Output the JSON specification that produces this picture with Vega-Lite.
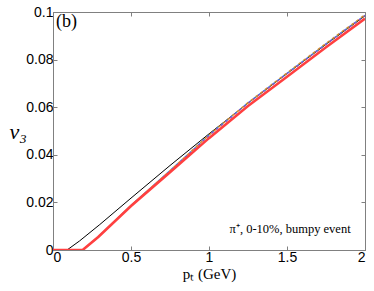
{
  "$schema": "https://vega.github.io/schema/vega-lite/v6.json",
  "width": 312,
  "height": 238,
  "autosize": {"type": "none"},
  "padding": {"left": 53, "top": 12, "right": 9, "bottom": 41},
  "background": "white",
  "config": {
    "view": {"stroke": "#808080", "strokeWidth": 1},
    "axis": {"grid": false, "domainColor": "#808080", "tickColor": "#808080", "tickSize": -4, "labelFont": "Liberation Sans", "labelFontSize": 14, "labelColor": "black", "titleColor": "black", "labelPadding": 4}
  },
  "datasets": {
    "lines": [
      {"s": "black", "pt": 0, "v": 0}, {"s": "black", "pt": 0.09, "v": 0}, {"s": "black", "pt": 0.17, "v": 0.0038}, {"s": "black", "pt": 0.3, "v": 0.0107}, {"s": "black", "pt": 0.5, "v": 0.0218}, {"s": "black", "pt": 0.75, "v": 0.0355}, {"s": "black", "pt": 1, "v": 0.0488}, {"s": "black", "pt": 1.25, "v": 0.0617}, {"s": "black", "pt": 1.5, "v": 0.0741}, {"s": "black", "pt": 1.75, "v": 0.0864}, {"s": "black", "pt": 2, "v": 0.0984},
      {"s": "d1", "pt": 0.19, "v": 0}, {"s": "d1", "pt": 0.29, "v": 0.0055}, {"s": "d1", "pt": 0.5, "v": 0.0187}, {"s": "d1", "pt": 0.75, "v": 0.0333}, {"s": "d1", "pt": 1, "v": 0.0482}, {"s": "d1", "pt": 1.25, "v": 0.0618}, {"s": "d1", "pt": 1.5, "v": 0.0742}, {"s": "d1", "pt": 1.75, "v": 0.0866}, {"s": "d1", "pt": 2, "v": 0.0986},
      {"s": "d2", "pt": 0.19, "v": 0}, {"s": "d2", "pt": 0.29, "v": 0.0055}, {"s": "d2", "pt": 0.5, "v": 0.0187}, {"s": "d2", "pt": 0.75, "v": 0.0333}, {"s": "d2", "pt": 1, "v": 0.0483}, {"s": "d2", "pt": 1.25, "v": 0.0619}, {"s": "d2", "pt": 1.5, "v": 0.0744}, {"s": "d2", "pt": 1.75, "v": 0.0868}, {"s": "d2", "pt": 2, "v": 0.0988},
      {"s": "d3", "pt": 0.19, "v": 0}, {"s": "d3", "pt": 0.29, "v": 0.0055}, {"s": "d3", "pt": 0.5, "v": 0.0186}, {"s": "d3", "pt": 0.75, "v": 0.0331}, {"s": "d3", "pt": 1, "v": 0.0481}, {"s": "d3", "pt": 1.25, "v": 0.0617}, {"s": "d3", "pt": 1.5, "v": 0.0741}, {"s": "d3", "pt": 1.75, "v": 0.0865}, {"s": "d3", "pt": 2, "v": 0.0985},
      {"s": "red", "pt": 0, "v": 0}, {"s": "red", "pt": 0.19, "v": 0}, {"s": "red", "pt": 0.29, "v": 0.0055}, {"s": "red", "pt": 0.5, "v": 0.0185}, {"s": "red", "pt": 0.75, "v": 0.0327}, {"s": "red", "pt": 1, "v": 0.047}, {"s": "red", "pt": 1.25, "v": 0.0605}, {"s": "red", "pt": 1.5, "v": 0.0728}, {"s": "red", "pt": 1.75, "v": 0.0852}, {"s": "red", "pt": 2, "v": 0.0972}
    ],
    "labels": [
      {"pt": 0.02, "v": 0.0995, "t": "(b)", "k": "b"},
      {"pt": 1.52, "v": 0.0088, "t": "π⁺, 0-10%, bumpy event", "k": "a"}
    ]
  },
  "resolve": {"axis": {"x": "independent", "y": "independent"}},
  "layer": [
    {
      "data": {"name": "lines"},
      "transform": [{"filter": "datum.s == 'black'"}],
      "mark": {"type": "line", "color": "black", "strokeWidth": 1, "clip": true},
      "encoding": {
        "x": {"field": "pt", "type": "quantitative", "scale": {"domain": [0, 2], "nice": false}, "axis": {"values": [0, 0.5, 1, 1.5, 2], "format": "~g", "title": "pₜ (GeV)", "titleFont": "Liberation Serif", "titleFontSize": 15, "titleFontWeight": "normal", "titlePadding": 2}},
        "y": {"field": "v", "type": "quantitative", "scale": {"domain": [0, 0.1], "nice": false}, "axis": {"values": [0, 0.02, 0.04, 0.06, 0.08, 0.1], "format": "~g", "title": "v₃", "titleFont": "Liberation Serif", "titleFontStyle": "italic", "titleFontSize": 22, "titleFontWeight": "normal", "titleAngle": 0, "titleBaseline": "middle", "titleAlign": "center", "titlePadding": 8}}
      }
    },
    {
      "data": {"name": "lines"},
      "transform": [{"filter": "datum.s == 'black'"}],
      "mark": {"type": "line", "opacity": 0},
      "encoding": {
        "x": {"field": "pt", "type": "quantitative", "axis": {"orient": "top", "values": [0, 0.5, 1, 1.5, 2], "labels": false, "title": null, "domain": false}},
        "y": {"field": "v", "type": "quantitative", "axis": {"orient": "right", "values": [0, 0.02, 0.04, 0.06, 0.08, 0.1], "labels": false, "title": null, "domain": false}}
      }
    },
    {
      "data": {"name": "lines"},
      "transform": [{"filter": "datum.s == 'd1'"}],
      "mark": {"type": "line", "color": "#3399dd", "strokeWidth": 1.5, "strokeDash": [3, 3], "clip": true},
      "encoding": {"x": {"field": "pt", "type": "quantitative", "axis": null}, "y": {"field": "v", "type": "quantitative", "axis": null}}
    },
    {
      "data": {"name": "lines"},
      "transform": [{"filter": "datum.s == 'd2'"}],
      "mark": {"type": "line", "color": "#cc8833", "strokeWidth": 1.5, "strokeDash": [3, 3], "strokeDashOffset": 3, "clip": true},
      "encoding": {"x": {"field": "pt", "type": "quantitative", "axis": null}, "y": {"field": "v", "type": "quantitative", "axis": null}}
    },
    {
      "data": {"name": "lines"},
      "transform": [{"filter": "datum.s == 'd3'"}],
      "mark": {"type": "line", "color": "#9944cc", "strokeWidth": 1.2, "strokeDash": [2, 4], "clip": true},
      "encoding": {"x": {"field": "pt", "type": "quantitative", "axis": null}, "y": {"field": "v", "type": "quantitative", "axis": null}}
    },
    {
      "data": {"name": "lines"},
      "transform": [{"filter": "datum.s == 'red'"}],
      "mark": {"type": "line", "color": "#ff4040", "strokeWidth": 2.6, "clip": true},
      "encoding": {"x": {"field": "pt", "type": "quantitative", "axis": null}, "y": {"field": "v", "type": "quantitative", "axis": null}}
    },
    {
      "data": {"name": "labels"},
      "transform": [{"filter": "datum.k == 'b'"}],
      "mark": {"type": "text", "font": "Liberation Serif", "fontSize": 18, "align": "left", "baseline": "top", "color": "black"},
      "encoding": {"x": {"field": "pt", "type": "quantitative", "axis": null}, "y": {"field": "v", "type": "quantitative", "axis": null}, "text": {"field": "t"}}
    },
    {
      "data": {"name": "labels"},
      "transform": [{"filter": "datum.k == 'a'"}],
      "mark": {"type": "text", "font": "Liberation Serif", "fontSize": 12.5, "align": "center", "baseline": "middle", "color": "black"},
      "encoding": {"x": {"field": "pt", "type": "quantitative", "axis": null}, "y": {"field": "v", "type": "quantitative", "axis": null}, "text": {"field": "t"}}
    }
  ]
}
